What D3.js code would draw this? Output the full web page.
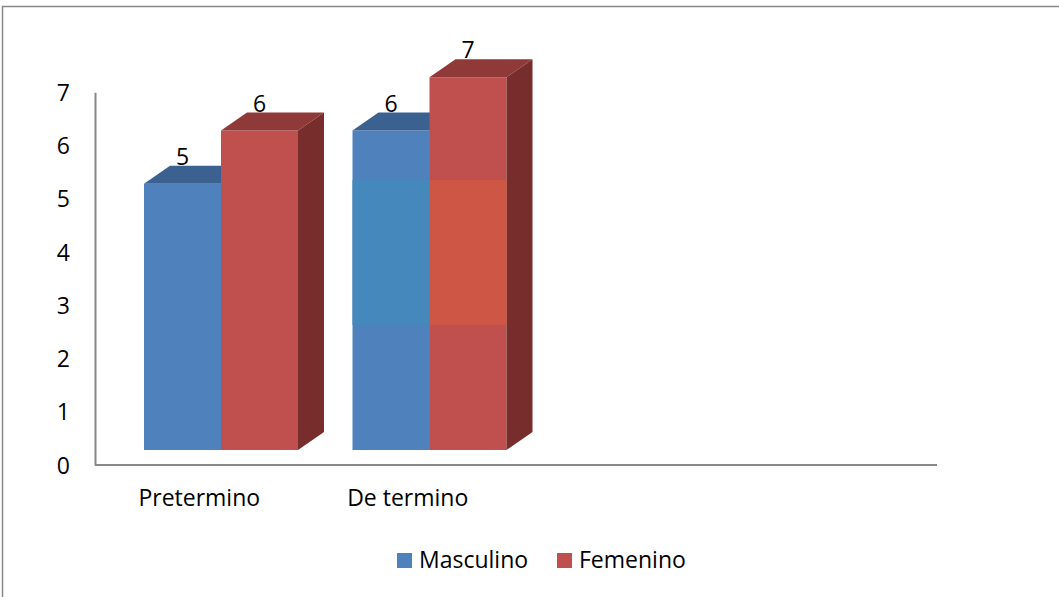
<!DOCTYPE html>
<html>
<head>
<meta charset="utf-8">
<script src="https://cdn.jsdelivr.net/npm/d3@7"></script>
<style>
  html, body { margin: 0; padding: 0; background: #fff; }
  svg { display: block; font-family: "Open Sans", sans-serif; }
</style>
</head>
<body>
<div id="chart"></div>
<script>
var categories = ["Pretermino", "De termino"];
var masculino = [5, 6];
var femenino = [6, 7];
var yTicks = [0, 1, 2, 3, 4, 5, 6, 7];
var seriesNames = ["Masculino", "Femenino"];
// faint tinted band seen on the second group (value range)
var tintRange = [2.35, 5.07];

var width = 1059, height = 597;
var depth = { dx: 26, dy: 18 };
var barW = 77;

var colors = {
  Masculino: { front: "#4f81bd", top: "#3a6190", side: "#2f4f77", tint: "#4588bc" },
  Femenino: { front: "#c0504d", top: "#8f3a38", side: "#772d2b", tint: "#cd5644" }
};

var svg = d3.select("#chart").append("svg")
  .attr("width", width)
  .attr("height", height);

// outer frame
svg.append("rect")
  .attr("x", 2.5).attr("y", 6.5)
  .attr("width", 1200).attr("height", 800)
  .attr("fill", "none")
  .attr("stroke", "#888").attr("stroke-width", 1.5);

var x = d3.scaleBand()
  .domain(categories)
  .range([95, 95 + 2 * 208.5]);

// front face scale
var y = d3.scaleLinear().domain([0, 7]).range([450, 450 - 7 * 53.25]);
// back wall / axis scale
var yAxisScale = d3.scaleLinear().domain([0, 7]).range([465, 465 - 7 * 53.25]);

// y axis
var gY = svg.append("g")
  .attr("transform", "translate(95,0)")
  .call(d3.axisLeft(yAxisScale).tickValues(yTicks).tickFormat(d3.format("d"))
    .tickSize(0).tickSizeOuter(0).tickPadding(25));
gY.select(".domain").attr("stroke", "#888").attr("stroke-width", 2);
gY.selectAll("text")
  .attr("font-family", "Open Sans")
  .attr("font-size", 23)
  .attr("fill", "#000")
  .attr("dy", "0.35em");

// floor line
svg.append("line")
  .attr("x1", 95).attr("x2", 937)
  .attr("y1", yAxisScale(0)).attr("y2", yAxisScale(0))
  .attr("stroke", "#888").attr("stroke-width", 2);

// category labels
svg.selectAll(".cat")
  .data(categories)
  .enter().append("text")
  .attr("class", "cat")
  .attr("x", function (d) { return x(d) + x.bandwidth() / 2; })
  .attr("y", 506)
  .attr("text-anchor", "middle")
  .attr("font-size", 23)
  .text(function (d) { return d; });

function drawBar(g, x0, v, c) {
  var x1 = x0 + barW, yt = y(v), y0 = y(0);
  g.append("rect")
    .attr("x", x0).attr("y", yt)
    .attr("width", barW).attr("height", y0 - yt)
    .attr("fill", c.front);
  g.append("polygon")
    .attr("points", [[x0, yt], [x0 + depth.dx, yt - depth.dy], [x1 + depth.dx, yt - depth.dy], [x1, yt]].join(" "))
    .attr("fill", c.top);
  g.append("polygon")
    .attr("points", [[x1, yt], [x1 + depth.dx, yt - depth.dy], [x1 + depth.dx, y0 - depth.dy], [x1, y0]].join(" "))
    .attr("fill", c.side);
}

var bars = svg.append("g");
categories.forEach(function (cat, i) {
  var bx = x(cat) + 49;
  drawBar(bars, bx, masculino[i], colors.Masculino);
  drawBar(bars, bx + barW, femenino[i], colors.Femenino);
  if (i === 1) {
    bars.append("rect")
      .attr("x", bx).attr("y", y(tintRange[1]))
      .attr("width", barW).attr("height", y(tintRange[0]) - y(tintRange[1]))
      .attr("fill", colors.Masculino.tint);
    bars.append("rect")
      .attr("x", bx + barW).attr("y", y(tintRange[1]))
      .attr("width", barW).attr("height", y(tintRange[0]) - y(tintRange[1]))
      .attr("fill", colors.Femenino.tint);
  }
});

// value labels
var labels = svg.append("g")
  .attr("font-size", 23)
  .attr("text-anchor", "middle");
categories.forEach(function (cat, i) {
  var bx = x(cat) + 49;
  labels.append("text")
    .attr("x", bx + barW / 2)
    .attr("y", y(masculino[i]) - depth.dy - 1)
    .text(masculino[i]);
  labels.append("text")
    .attr("x", bx + barW * 1.5)
    .attr("y", y(femenino[i]) - depth.dy - 1)
    .text(femenino[i]);
});

// legend
var legendX = [397, 557];
var legend = svg.append("g");
seriesNames.forEach(function (name, i) {
  legend.append("rect")
    .attr("x", legendX[i]).attr("y", 553)
    .attr("width", 15).attr("height", 15)
    .attr("fill", colors[name].front);
  legend.append("text")
    .attr("x", legendX[i] + 22).attr("y", 568)
    .attr("font-size", 23)
    .text(name);
});
</script>
</body>
</html>
